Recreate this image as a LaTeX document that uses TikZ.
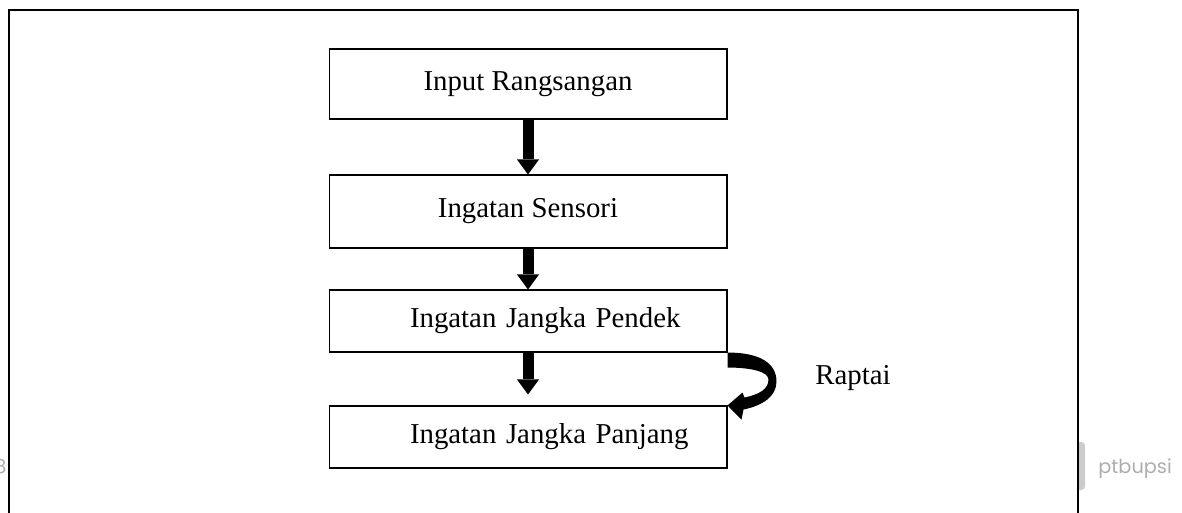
\documentclass[tikz,border=0pt]{standalone}
\usepackage{fontspec}
\setmainfont{Liberation Serif}
\newfontfamily\markfont{Poppins}
\usepackage{tikz}
\usetikzlibrary{arrows.meta}
\usetikzlibrary{calc}

\newcommand{\stagefont}{\fontsize{16.4}{20}\selectfont}

\begin{document}
\begin{tikzpicture}[x=0.02cm, y=-0.02cm,
stagebox/.style={draw, line width=0.6pt, minimum width=7.96cm, inner sep=0pt, font=\stagefont},
indented/.style={text width=7.96cm, align=left},
flowarrow/.style={line width=0.22cm, -{Triangle[width=0.44cm,length=0.3cm,line width=0pt]}},
watermark/.style={text=black!32, font=\markfont\fontsize{11}{13}\selectfont, inner sep=0pt}]
\useasboundingbox (0,0) rectangle (1182,512);

% page watermark, partly under the frame
\fill[black!20, rounded corners=2pt] (1070,442) rectangle (1085,490);
\node[watermark, anchor=west] (site) at (1098,469) {ptbupsi};
\node[watermark, anchor=east] (page) at (7,467) {8};

\draw[line width=0.85pt, fill=white] (9,10) rectangle (1078,540);

\node[stagebox, minimum height=1.4cm] (input) at (528,84) {Input Rangsangan};
\node[stagebox, minimum height=1.46cm] (sensory) at (528,211.5) {Ingatan Sensori};
\node[stagebox, indented, minimum height=1.24cm] (short) at (528,321)
  {\noindent\hspace*{1.62cm}Ingatan Jangka Pendek};
\node[stagebox, indented, minimum height=1.24cm] (long) at (528,437)
  {\noindent\hspace*{1.62cm}Ingatan Jangka Panjang};

\draw[flowarrow] (input) -- (sensory);
\draw[flowarrow] (sensory) -- (short);
\draw[flowarrow, shorten >=0.22cm] (short) -- (long);

% curved arrow back into long term memory
\begin{scope}[shift={(short.south east)}]
\fill (0,0) .. controls (33,0) and (49,11) .. (49,29)
  .. controls (49,44) and (35,53) .. (16,57) -- (14,67) -- (long.north east)
  -- (15,40) -- (17,45)
  .. controls (31,42) and (41,37) .. (41,27)
  .. controls (41,19) and (23,15) .. (0,15) -- cycle;
\end{scope}
\node[font=\stagefont] (rehearsal) at (853,378) {Raptai};
\end{tikzpicture}
\end{document}
